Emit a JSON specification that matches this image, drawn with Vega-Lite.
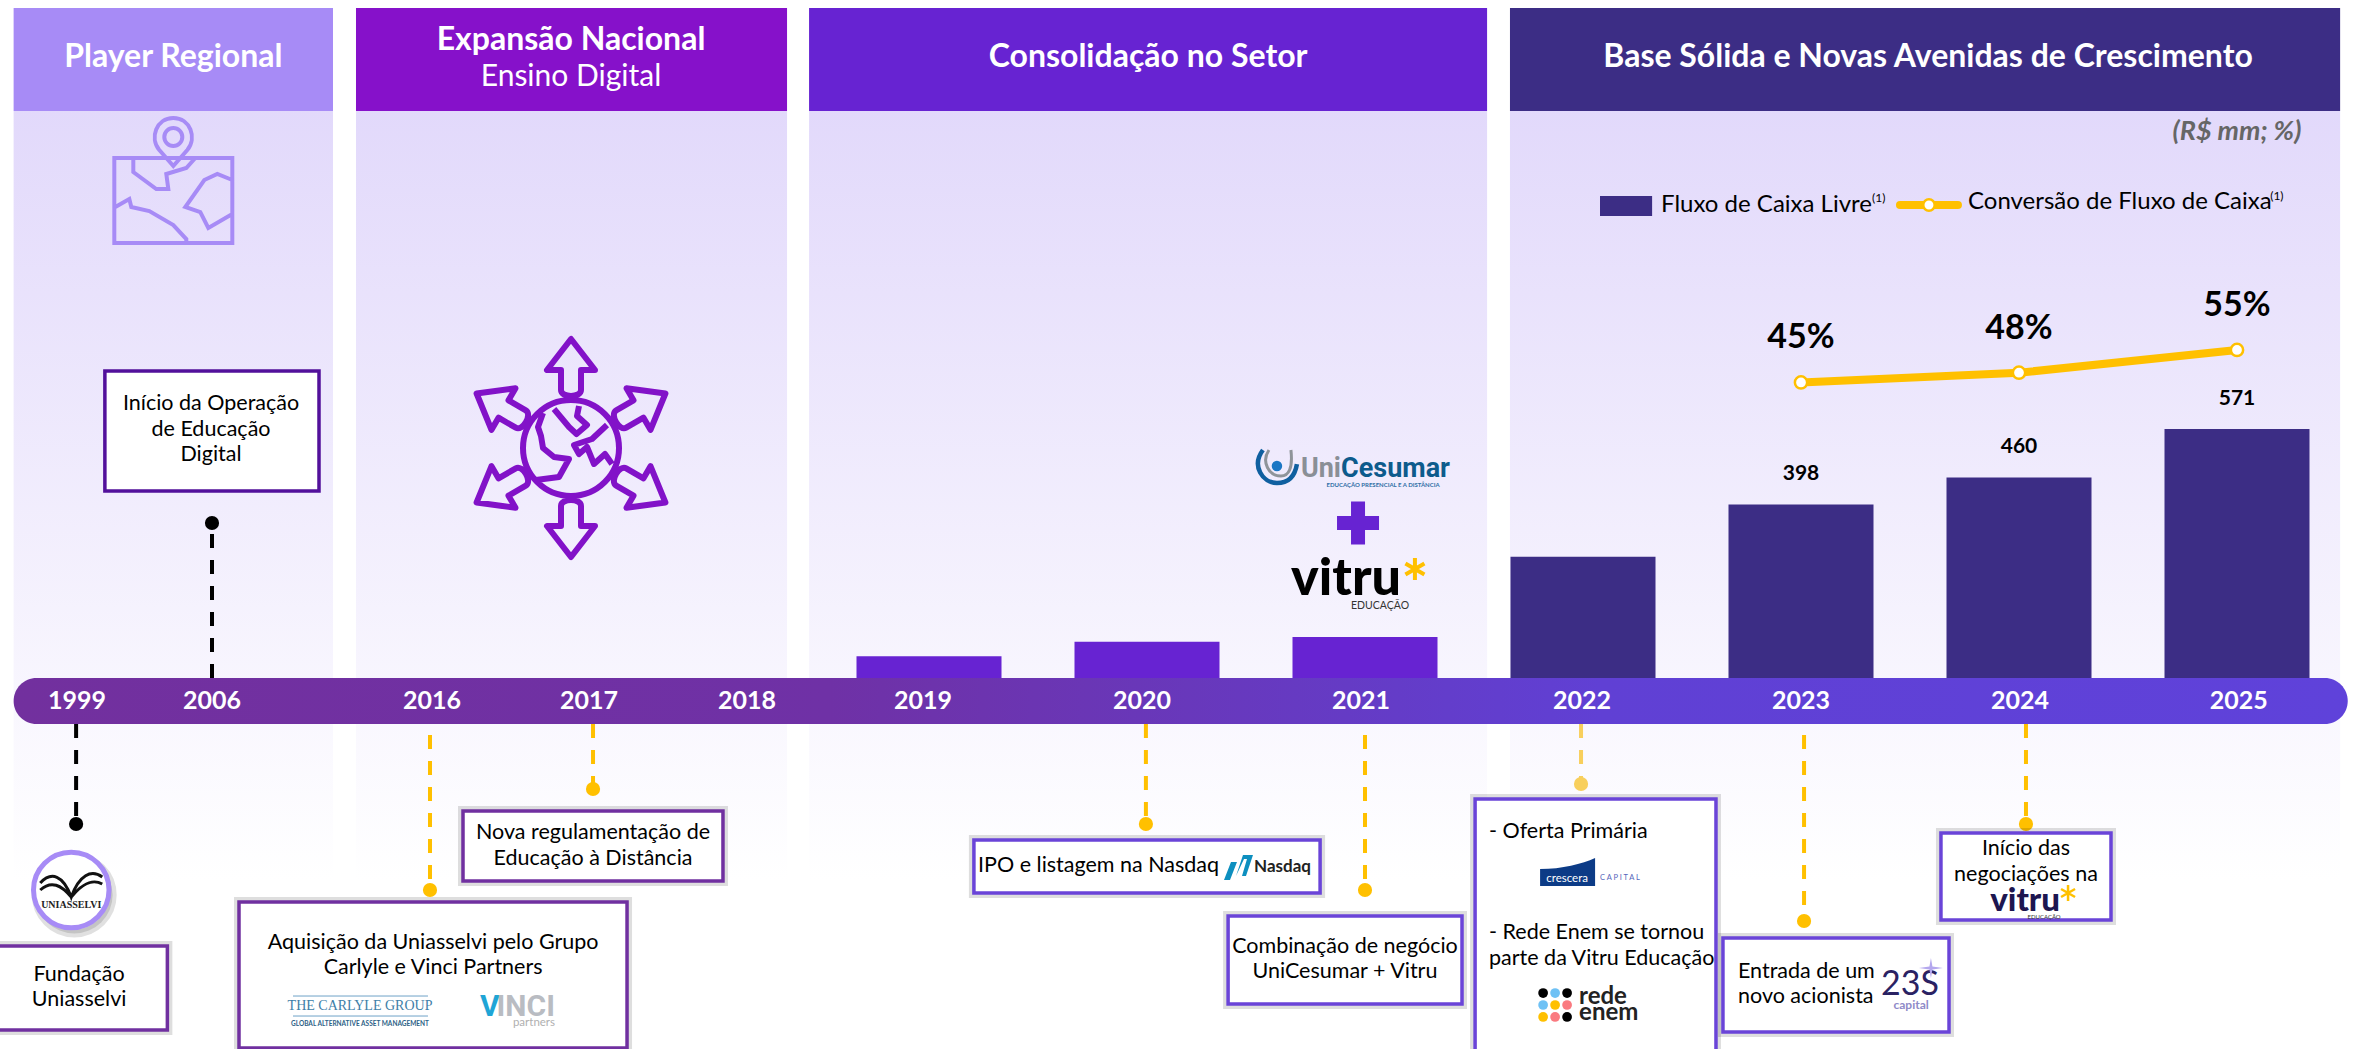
{
"$schema":"https://vega.github.io/schema/vega-lite/v6.json",
"width":2354,"height":1049,"autosize":{"type":"none"},"padding":0,"background":"white",
"config":{"view":{"stroke":null},"axis":{"disable":true},"legend":{"disable":true},"text":{"font":"Lato"}},
"datasets":{
"paineis":[
{"fase":"Player Regional","de":1995.781,"ate":2011.525},
{"fase":"Expansão Nacional","de":2012.575,"ate":2018.220},
{"fase":"Consolidação no Setor","de":2018.341,"ate":2021.560},
{"fase":"Base Sólida","de":2021.665,"ate":2025.5}],
"fluxo":[
{"ano":2019,"fcl":50,"fase":"Consolidação no Setor"},
{"ano":2020,"fcl":83,"fase":"Consolidação no Setor"},
{"ano":2021,"fcl":94,"fase":"Consolidação no Setor"},
{"ano":2022,"fcl":278,"fase":"Base Sólida"},
{"ano":2023,"fcl":398,"fase":"Base Sólida"},
{"ano":2024,"fcl":460,"fase":"Base Sólida"},
{"ano":2025,"fcl":571,"fase":"Base Sólida"}],
"conversao":[{"ano":2023,"pct":45,"rotulo":"45%"},{"ano":2024,"pct":48,"rotulo":"48%"},{"ano":2025,"pct":55,"rotulo":"55%"}],
"anos":[
{"t":"1999","x":1999.051},{"t":"2006","x":2006},{"t":"2016","x":2016.006},{"t":"2017","x":2016.988},{"t":"2018","x":2018},{"t":"2019","x":2018.967},{"t":"2020","x":2019.977},{"t":"2021","x":2020.982},{"t":"2022","x":2021.995},{"t":"2023","x":2023},{"t":"2024","x":2024.005},{"t":"2025","x":2025.009}],
"eventos":[
{"x":1999,"de":-105.5,"ate":-334.9,"tipo":"preto"},
{"x":2006,"de":0,"ate":355.5,"tipo":"preto"},
{"x":2015.954,"de":-130.7,"ate":-486.2,"tipo":"amarelo"},
{"x":2017.013,"de":-105.5,"ate":-254.6,"tipo":"amarelo"},
{"x":2019.995,"de":-105.5,"ate":-334.9,"tipo":"amarelo"},
{"x":2021,"de":-130.7,"ate":-486.2,"tipo":"amarelo"},
{"x":2021.991,"de":-105.5,"ate":-243.1,"tipo":"amarelo claro"},
{"x":2023.014,"de":-130.7,"ate":-557.3,"tipo":"amarelo"},
{"x":2024.032,"de":-105.5,"ate":-334.9,"tipo":"amarelo"}],
"caixas":[
{"nome":"Início","x1":2000.482,"x2":2010.886,"y1":704.1,"y2":428.9,"tipo":"roxo escuro"},
{"nome":"Fundação","x1":1994.912,"x2":2003.701,"y1":-614.7,"y2":-807.3,"tipo":"roxo"},
{"nome":"Aquisição","x1":2007.233,"x2":2017.231,"y1":-513.8,"y2":-848.6,"tipo":"roxo"},
{"nome":"Nova","x1":2016.2,"x2":2017.846,"y1":-305.0,"y2":-465.6,"tipo":"roxo"},
{"nome":"IPO","x1":2019.206,"x2":2020.794,"y1":-371.6,"y2":-493.1,"tipo":"violeta"},
{"nome":"Combinação","x1":2020.372,"x2":2021.445,"y1":-545.9,"y2":-747.7,"tipo":"violeta"},
{"nome":"Oferta","x1":2021.505,"x2":2022.610,"y1":-277.5,"y2":-876,"tipo":"violeta"},
{"nome":"Entrada","x1":2022.642,"x2":2023.679,"y1":-596.3,"y2":-811.9,"tipo":"violeta"},
{"nome":"Negociações","x1":2023.642,"x2":2024.422,"y1":-355.5,"y2":-555.1,"tipo":"violeta"}],
"notasCentro":[
{"t":"Início da Operação","x":2005.949,"y":628.4},{"t":"de Educação","x":2005.949,"y":568.8},{"t":"Digital","x":2005.949,"y":511.5},
{"t":"Fundação","x":1999.153,"y":-681.2},{"t":"Uniasselvi","x":1999.153,"y":-738.5},
{"t":"Aquisição da Uniasselvi pelo Grupo","x":2016.013,"y":-607.8},{"t":"Carlyle e Vinci Partners","x":2016.013,"y":-665.1},
{"t":"Nova regulamentação de","x":2017.013,"y":-355.5},{"t":"Educação à Distância","x":2017.013,"y":-415.1},
{"t":"Combinação de negócio","x":2020.908,"y":-617.0},{"t":"UniCesumar + Vitru","x":2020.908,"y":-674.3},
{"t":"Início das","x":2024.032,"y":-392.2},{"t":"negociações na","x":2024.032,"y":-451.8}],
"notasEsq":[
{"t":"IPO e listagem na  Nasdaq","x":2019.225,"y":-431.2},
{"t":"- Oferta Primária","x":2021.569,"y":-353.2},
{"t":"- Rede Enem se tornou","x":2021.569,"y":-584.9},
{"t":"parte da Vitru Educação","x":2021.569,"y":-644.5},
{"t":"Entrada de um","x":2022.711,"y":-674.3},
{"t":"novo acionista","x":2022.711,"y":-731.6}],
"pontosRede":[
{"x":2021.817,"y":-722.5,"tipo":"preto"},{"x":2021.872,"y":-722.5,"tipo":"azul"},{"x":2021.927,"y":-722.5,"tipo":"preto"},
{"x":2021.817,"y":-750,"tipo":"azul"},{"x":2021.872,"y":-750,"tipo":"amarelo"},{"x":2021.927,"y":-750,"tipo":"rosa"},
{"x":2021.817,"y":-777.5,"tipo":"amarelo"},{"x":2021.872,"y":-777.5,"tipo":"rosa"},{"x":2021.927,"y":-777.5,"tipo":"preto"}]
},
"resolve":{"scale":{"y":"independent"}},
"layer":[
{"layer":[
{"data":{"name":"paineis"},"mark":{"type":"rect","color":{"gradient":"linear","x1":0,"y1":0,"x2":0,"y2":1,"stops":[{"offset":0,"color":"#e2d9fb"},{"offset":0.75,"color":"#f8f6fe"},{"offset":1,"color":"#ffffff"}]}},
"encoding":{"x":{"field":"de","type":"quantitative","scale":{"type":"linear","domain":[1999,2006,2016,2017,2018,2019,2020,2021,2022,2023,2024,2025,2026],"range":[75,212,431,591,747,929,1147,1365,1583,1801,2019,2237,2455],"nice":false,"zero":false}},"x2":{"field":"ate"},"y":{"datum":1300.5,"type":"quantitative","scale":{"domain":[-850.92,1555.05],"range":[1049,0],"nice":false,"zero":false}},"y2":{"datum":-463.3}}},
{"data":{"name":"paineis"},"mark":{"type":"rect"},
"encoding":{"x":{"field":"de","type":"quantitative"},"x2":{"field":"ate"},"y":{"datum":1536.7,"type":"quantitative"},"y2":{"datum":1300.5},"fill":{"field":"fase","type":"nominal","scale":{"domain":["Player Regional","Expansão Nacional","Consolidação no Setor","Base Sólida","preto","amarelo","amarelo claro","azul","rosa"],"range":["#a78bf6","#8611ca","#6723d2","#3c2d85","#000000","#ffc000","#f8cf5c","#6ec1f5","#fa7a80"]}}}},
{"data":{"name":"fluxo"},"mark":{"type":"bar","size":145,"orient":"vertical"},
"encoding":{"x":{"field":"ano","type":"quantitative"},"y":{"field":"fcl","type":"quantitative","stack":null},"y2":{"datum":0},"fill":{"field":"fase","type":"nominal"}}},
{"data":{"values":[{"de":1995.781,"ate":2025.537}]},"mark":{"type":"rect","cornerRadius":23,"color":{"gradient":"linear","x1":0,"y1":0,"x2":1,"y2":0,"stops":[{"offset":0,"color":"#72309e"},{"offset":0.35,"color":"#6f31a6"},{"offset":0.68,"color":"#6040d4"},{"offset":1,"color":"#5f42da"}]}},
"encoding":{"x":{"field":"de","type":"quantitative"},"x2":{"field":"ate"},"y":{"datum":0,"type":"quantitative"},"y2":{"datum":-105.5}}},
{"data":{"name":"eventos"},"mark":{"type":"rule","strokeWidth":4,"strokeDash":[14,12]},
"encoding":{"x":{"field":"x","type":"quantitative"},"y":{"field":"de","type":"quantitative"},"y2":{"field":"ate"},"stroke":{"field":"tipo","type":"nominal","scale":{"domain":["preto","amarelo","amarelo claro","roxo escuro","roxo","violeta"],"range":["#000000","#ffc000","#f8cf5c","#52109b","#7030a0","#6a44d8"]}}}},
{"data":{"name":"eventos"},"mark":{"type":"point","shape":"circle","filled":true,"size":201,"opacity":1},
"encoding":{"x":{"field":"x","type":"quantitative"},"y":{"field":"ate","type":"quantitative"},"fill":{"field":"tipo","type":"nominal"}}},
{"data":{"name":"caixas"},"transform":[{"filter":"datum.tipo != 'roxo escuro'"}],"mark":{"type":"rect","fill":"#000","fillOpacity":0,"stroke":"#000","strokeOpacity":0.13,"strokeWidth":10},
"encoding":{"x":{"field":"x1","type":"quantitative"},"x2":{"field":"x2"},"y":{"field":"y1","type":"quantitative"},"y2":{"field":"y2"}}},
{"data":{"name":"caixas"},"mark":{"type":"rect","fill":"#ffffff","strokeWidth":3.5},
"encoding":{"x":{"field":"x1","type":"quantitative"},"x2":{"field":"x2"},"y":{"field":"y1","type":"quantitative"},"y2":{"field":"y2"},"stroke":{"field":"tipo","type":"nominal"}}},
{"data":{"values":[{"t":"Player Regional","x":2004.007,"y":1424.3},{"t":"Expansão Nacional","x":2016.875,"y":1463.3},{"t":"Consolidação no Setor","x":2020.005,"y":1424.3},{"t":"Base Sólida e Novas Avenidas de Crescimento","x":2023.583,"y":1424.3}]},"mark":{"type":"text","fontSize":32,"fontWeight":700,"color":"#ffffff","baseline":"middle","align":"center"},
"encoding":{"x":{"field":"x","type":"quantitative"},"y":{"field":"y","type":"quantitative"},"text":{"field":"t"}}},
{"data":{"values":[{"t":"Ensino Digital","x":2016.875,"y":1378.4}]},"mark":{"type":"text","fontSize":30,"color":"#ffffff","baseline":"middle","align":"center"},
"encoding":{"x":{"field":"x","type":"quantitative"},"y":{"field":"y","type":"quantitative"},"text":{"field":"t"}}},
{"data":{"name":"anos"},"mark":{"type":"text","fontSize":25,"fontWeight":700,"color":"#ffffff","baseline":"middle","align":"center"},
"encoding":{"x":{"field":"x","type":"quantitative"},"y":{"datum":-52.75,"type":"quantitative"},"text":{"field":"t"}}},
{"data":{"name":"notasCentro"},"mark":{"type":"text","fontSize":21.5,"color":"#000000","baseline":"middle","align":"center"},
"encoding":{"x":{"field":"x","type":"quantitative"},"y":{"field":"y","type":"quantitative"},"text":{"field":"t"}}},
{"data":{"name":"notasEsq"},"mark":{"type":"text","fontSize":21.5,"color":"#000000","baseline":"middle","align":"left"},
"encoding":{"x":{"field":"x","type":"quantitative"},"y":{"field":"y","type":"quantitative"},"text":{"field":"t"}}},
{"data":{"values":[{"t":"Fluxo de Caixa Livre","x":2022.358,"y":1084.9},{"t":"Conversão de Fluxo de Caixa","x":2023.766,"y":1091.7}]},"mark":{"type":"text","fontSize":24,"color":"#000000","baseline":"middle","align":"left"},
"encoding":{"x":{"field":"x","type":"quantitative"},"y":{"field":"y","type":"quantitative"},"text":{"field":"t"}}},
{"data":{"values":[{"t":"(1)","x":2023.326,"y":1100.9},{"t":"(1)","x":2025.161,"y":1105.5}]},"mark":{"type":"text","fontSize":12,"color":"#000000","baseline":"middle","align":"left"},
"encoding":{"x":{"field":"x","type":"quantitative"},"y":{"field":"y","type":"quantitative"},"text":{"field":"t"}}},
{"data":{"values":[{"t":"(R$ mm; %)","x":2025.312,"y":1252.3}]},"mark":{"type":"text","fontSize":27,"fontWeight":700,"fontStyle":"italic","color":"#666666","baseline":"middle","align":"right"},
"encoding":{"x":{"field":"x","type":"quantitative"},"y":{"field":"y","type":"quantitative"},"text":{"field":"t"}}},
{"data":{"values":[{"de":2022.078,"ate":2022.317}]},"mark":{"type":"rect","fill":"#3c2d85"},
"encoding":{"x":{"field":"de","type":"quantitative"},"x2":{"field":"ate"},"y":{"datum":1105.5,"type":"quantitative"},"y2":{"datum":1059.6}}},
{"data":{"values":[{"x":2023.454,"y":1084.9},{"x":2023.720,"y":1084.9}]},"mark":{"type":"line","stroke":"#ffc000","strokeWidth":8,"strokeCap":"round"},
"encoding":{"x":{"field":"x","type":"quantitative"},"y":{"field":"y","type":"quantitative"}}},
{"data":{"values":[{"x":2023.587,"y":1084.9}]},"mark":{"type":"point","shape":"circle","filled":true,"fill":"#ffffff","stroke":"#ffc000","strokeWidth":2.5,"size":130,"opacity":1},
"encoding":{"x":{"field":"x","type":"quantitative"},"y":{"field":"y","type":"quantitative"}}},
{"data":{"values":[{"fcl":398,"ano":2023},{"fcl":460,"ano":2024},{"fcl":571,"ano":2025}]},"mark":{"type":"text","fontSize":21,"fontWeight":700,"color":"#000000","baseline":"middle","align":"center","dy":-30},
"encoding":{"x":{"field":"ano","type":"quantitative"},"y":{"field":"fcl","type":"quantitative"},"text":{"field":"fcl","type":"quantitative"}}},
{"data":{"values":[{"icone":"mapa","x":2004.007,"y":1096.3}]},"mark":{"type":"point","size":4,"filled":false,"opacity":1,"stroke":"#a78bf6","strokeWidth":4,"shape":"M-59,-42L59,-42L59,43L-59,43ZM0,-34L-14,-50C-24,-62,-17,-82,0,-82C17,-82,24,-62,14,-50ZM9,-63A9,9,0,1,1,-9,-63A9,9,0,1,1,9,-63ZM-40,-42L-40,-28L-17,-11L-5,-11L-7,-26L13,-32L22,-42M59,-20L44,-26L31,-20L12,7L27,12L35,28L59,14M-58,7L-44,-1L-42,7L-24,11L0,25L13,39L13,43"},
"encoding":{"x":{"field":"x","type":"quantitative"},"y":{"field":"y","type":"quantitative"}}},
{"data":{"values":[{"icone":"globo","x":2016.875,"y":527.5}]},"mark":{"type":"point","size":4,"filled":false,"opacity":1,"stroke":"#8212c8","strokeWidth":6,"strokeJoin":"round","shape":"M48,0A48,48,0,1,1,-48,0A48,48,0,1,1,48,0ZM0,-109L-24,-78L-10,-78L-10,-58C-10,-50,10,-50,10,-58L10,-78L24,-78ZM0,109L-24,78L-10,78L-10,58C-10,50,10,50,10,58L10,78L24,78ZM94.4,-54.5L55.5,-59.8L62.5,-47.7L45.2,-37.7C38.3,-33.7,48.3,-16.3,55.2,-20.3L72.5,-30.3L79.5,-18.2ZM94.4,54.5L55.5,59.8L62.5,47.7L45.2,37.7C38.3,33.7,48.3,16.3,55.2,20.3L72.5,30.3L79.5,18.2ZM-94.4,-54.5L-55.5,-59.8L-62.5,-47.7L-45.2,-37.7C-38.3,-33.7,-48.3,-16.3,-55.2,-20.3L-72.5,-30.3L-79.5,-18.2ZM-94.4,54.5L-55.5,59.8L-62.5,47.7L-45.2,37.7C-38.3,33.7,-48.3,16.3,-55.2,20.3L-72.5,30.3L-79.5,18.2ZM-17,-39L-2,-21L5.5,-14L16,-23L6,-32L8,-42M-28,-35L-33,-21L-30,-12L-28,0L-17,9L-2,11L-12,29L-35,32M36,-23L21,-9L3,-3L8,6L16,-1L23,16L34,6L41,16"},
"encoding":{"x":{"field":"x","type":"quantitative"},"y":{"field":"y","type":"quantitative"}}},
{"data":{"values":[{"icone":"selo","x":1998.75,"y":-486.2}]},"mark":{"type":"point","shape":"circle","filled":true,"fill":"#000000","stroke":"#000000","strokeOpacity":0.12,"fillOpacity":0.12,"strokeWidth":8,"size":5900,"opacity":1,"yOffset":5,"xOffset":3},
"encoding":{"x":{"field":"x","type":"quantitative"},"y":{"field":"y","type":"quantitative"}}},
{"data":{"values":[{"icone":"selo","x":1998.75,"y":-486.2}]},"mark":{"type":"point","shape":"circle","filled":true,"fill":"#ffffff","stroke":"#a78bf6","strokeWidth":5,"size":5700,"opacity":1},
"encoding":{"x":{"field":"x","type":"quantitative"},"y":{"field":"y","type":"quantitative"}}},
{"data":{"values":[{"icone":"livro","x":1998.75,"y":-474.8}]},"mark":{"type":"point","size":4,"filled":false,"opacity":1,"stroke":"#111111","strokeWidth":3,"shape":"M-31,-2C-20,-14,-8,-10,0,12C8,-10,20,-16,31,-8M-31,5C-20,-5,-10,0,0,12C10,0,20,-7,31,-1"},
"encoding":{"x":{"field":"x","type":"quantitative"},"y":{"field":"y","type":"quantitative"}}},
{"data":{"values":[{"t":"UNIASSELVI","x":1998.75,"y":-520.6}]},"mark":{"type":"text","font":"Liberation Serif","fontSize":10,"fontWeight":700,"color":"#222222","baseline":"middle","align":"center"},
"encoding":{"x":{"field":"x","type":"quantitative"},"y":{"field":"y","type":"quantitative"},"text":{"field":"t"}}},
{"data":{"values":[{"t":"THE CARLYLE GROUP","x":2012.758,"y":-752.3}]},"mark":{"type":"text","font":"Liberation Serif","fontSize":14,"color":"#3e7ea8","baseline":"middle","align":"center"},
"encoding":{"x":{"field":"x","type":"quantitative"},"y":{"field":"y","type":"quantitative"},"text":{"field":"t"}}},
{"data":{"values":[{"t":"GLOBAL ALTERNATIVE ASSET MANAGEMENT","x":2012.758,"y":-793.6}]},"mark":{"type":"text","fontSize":6.5,"fontWeight":700,"color":"#2d5f86","baseline":"middle","align":"center"},
"encoding":{"x":{"field":"x","type":"quantitative"},"y":{"field":"y","type":"quantitative"},"text":{"field":"t"}}},
{"data":{"values":[{"y":-729.4},{"y":-775.3}]},"mark":{"type":"rule","stroke":"#6fa3c7","strokeWidth":1},
"encoding":{"x":{"datum":2009.699,"type":"quantitative"},"x2":{"datum":2015.863},"y":{"field":"y","type":"quantitative"}}},
{"data":{"values":[{"t":"V","x":2016.306,"y":-754.6}]},"mark":{"type":"text","font":"Roboto","fontSize":30,"fontWeight":700,"color":"#1fa5d6","baseline":"middle","align":"left"},
"encoding":{"x":{"field":"x","type":"quantitative"},"y":{"field":"y","type":"quantitative"},"text":{"field":"t"}}},
{"data":{"values":[{"t":"INCI","x":2016.41,"y":-754.6}]},"mark":{"type":"text","font":"Roboto","fontSize":30,"fontWeight":700,"color":"#b9bcc2","baseline":"middle","align":"left"},
"encoding":{"x":{"field":"x","type":"quantitative"},"y":{"field":"y","type":"quantitative"},"text":{"field":"t"}}},
{"data":{"values":[{"t":"partners","x":2016.775,"y":-791.3}]},"mark":{"type":"text","fontSize":11.5,"color":"#b0b0b0","baseline":"middle","align":"right"},
"encoding":{"x":{"field":"x","type":"quantitative"},"y":{"field":"y","type":"quantitative"},"text":{"field":"t"}}},
{"data":{"values":[{"icone":"nasdaq","x":2020.422,"y":-433.5}]},"mark":{"type":"point","size":4,"filled":true,"opacity":1,"fill":"#0d8fbf","stroke":null,"shape":"M-15,13L-8,-5L-2,-5L-9,13ZM-3,9L4,-12L14,-12L7,9L3,9L8,-8L5,-8Z"},
"encoding":{"x":{"field":"x","type":"quantitative"},"y":{"field":"y","type":"quantitative"}}},
{"data":{"values":[{"t":"Nasdaq","x":2020.491,"y":-433.5}]},"mark":{"type":"text","font":"Lato","fontSize":17,"fontWeight":700,"color":"#222222","baseline":"middle","align":"left"},
"encoding":{"x":{"field":"x","type":"quantitative"},"y":{"field":"y","type":"quantitative"},"text":{"field":"t"}}},
{"data":{"values":[{"icone":"crescera","x":2021.927,"y":-445}]},"mark":{"type":"point","size":4,"filled":true,"opacity":1,"fill":"#0c3b86","stroke":null,"shape":"M-27,-3C-5,-3,15,-8,28,-14L28,14L-27,14Z"},
"encoding":{"x":{"field":"x","type":"quantitative"},"y":{"field":"y","type":"quantitative"}}},
{"data":{"values":[{"t":"crescera","x":2021.927,"y":-461}]},"mark":{"type":"text","fontSize":11.5,"color":"#ffffff","baseline":"middle","align":"center"},
"encoding":{"x":{"field":"x","type":"quantitative"},"y":{"field":"y","type":"quantitative"},"text":{"field":"t"}}},
{"data":{"values":[{"t":"C A P I T A L","x":2022.078,"y":-458.7}]},"mark":{"type":"text","fontSize":7.5,"color":"#5566bb","baseline":"middle","align":"left"},
"encoding":{"x":{"field":"x","type":"quantitative"},"y":{"field":"y","type":"quantitative"},"text":{"field":"t"}}},
{"data":{"name":"pontosRede"},"mark":{"type":"point","shape":"circle","filled":true,"size":95,"opacity":1},
"encoding":{"x":{"field":"x","type":"quantitative"},"y":{"field":"y","type":"quantitative"},"fill":{"field":"tipo","type":"nominal"}}},
{"data":{"values":[{"t":"rede","x":2021.982,"y":-731.6},{"t":"enem","x":2021.982,"y":-768.3}]},"mark":{"type":"text","fontSize":24,"fontWeight":700,"color":"#222222","baseline":"middle","align":"left"},
"encoding":{"x":{"field":"x","type":"quantitative"},"y":{"field":"y","type":"quantitative"},"text":{"field":"t"}}},
{"data":{"values":[{"t":"23S","x":2023.367,"y":-704.1}]},"mark":{"type":"text","fontSize":34,"color":"#2a2263","baseline":"middle","align":"left"},
"encoding":{"x":{"field":"x","type":"quantitative"},"y":{"field":"y","type":"quantitative"},"text":{"field":"t"}}},
{"data":{"values":[{"t":"capital","x":2023.505,"y":-750}]},"mark":{"type":"text","fontSize":12,"fontWeight":700,"color":"#8f8ac8","baseline":"middle","align":"center"},
"encoding":{"x":{"field":"x","type":"quantitative"},"y":{"field":"y","type":"quantitative"},"text":{"field":"t"}}},
{"data":{"values":[{"icone":"estrela","x":2023.596,"y":-665.1}]},"mark":{"type":"point","size":4,"filled":true,"opacity":1,"fill":"#b4a7ee","stroke":null,"shape":"M0,-10L1.5,-1.5L12,0L1.5,1.5L0,10L-1.5,1.5L-12,0L-1.5,-1.5Z"},
"encoding":{"x":{"field":"x","type":"quantitative"},"y":{"field":"y","type":"quantitative"}}},
{"data":{"values":[{"t":"vitru","x":2024.028,"y":-511.5}]},"mark":{"type":"text","fontSize":33,"fontWeight":900,"color":"#1d1650","baseline":"middle","align":"center"},
"encoding":{"x":{"field":"x","type":"quantitative"},"y":{"field":"y","type":"quantitative"},"text":{"field":"t"}}},
{"data":{"values":[{"icone":"asterisco","x":2024.225,"y":-493.1}]},"mark":{"type":"point","size":4,"filled":false,"opacity":1,"stroke":"#ffc000","strokeWidth":2.5,"shape":"M0,-8L0,8M-7,-4L7,4M-7,4L7,-4"},
"encoding":{"x":{"field":"x","type":"quantitative"},"y":{"field":"y","type":"quantitative"}}},
{"data":{"values":[{"t":"EDUCAÇÃO","x":2024.115,"y":-548.2}]},"mark":{"type":"text","fontSize":6,"color":"#333333","baseline":"middle","align":"center"},
"encoding":{"x":{"field":"x","type":"quantitative"},"y":{"field":"y","type":"quantitative"},"text":{"field":"t"}}},
{"data":{"values":[{"icone":"mais","x":2020.968,"y":355.5}]},"mark":{"type":"point","size":4,"filled":true,"opacity":1,"fill":"#6723d2","stroke":null,"shape":"M-7,-21.5L7,-21.5L7,-7L21,-7L21,7L7,7L7,21.5L-7,21.5L-7,7L-21,7L-21,-7L-7,-7Z"},
"encoding":{"x":{"field":"x","type":"quantitative"},"y":{"field":"y","type":"quantitative"}}},
{"data":{"values":[{"t":"vitru","x":2020.913,"y":190.4}]},"mark":{"type":"text","fontSize":52,"fontWeight":900,"color":"#000000","baseline":"alphabetic","align":"center"},
"encoding":{"x":{"field":"x","type":"quantitative"},"y":{"field":"y","type":"quantitative"},"text":{"field":"t"}}},
{"data":{"values":[{"icone":"asterisco","x":2021.229,"y":250}]},"mark":{"type":"point","size":4,"filled":false,"opacity":1,"stroke":"#ffc000","strokeWidth":4,"shape":"M0,-11L0,11M-9.5,-5.5L9.5,5.5M-9.5,5.5L9.5,-5.5"},
"encoding":{"x":{"field":"x","type":"quantitative"},"y":{"field":"y","type":"quantitative"}}},
{"data":{"values":[{"t":"EDUCAÇÃO","x":2021.069,"y":164}]},"mark":{"type":"text","fontSize":10.5,"color":"#333333","baseline":"middle","align":"center"},
"encoding":{"x":{"field":"x","type":"quantitative"},"y":{"field":"y","type":"quantitative"},"text":{"field":"t"}}},
{"data":{"values":[{"icone":"unicesumar","x":2020.596,"y":486.2}]},"mark":{"type":"point","size":4,"filled":false,"opacity":1,"stroke":"#0f5fa0","strokeWidth":4.5,"shape":"M-14,-16C-26,0,-14,17,0,17C12,17,18,10,20,-2"},
"encoding":{"x":{"field":"x","type":"quantitative"},"y":{"field":"y","type":"quantitative"}}},
{"data":{"values":[{"icone":"unicesumar","x":2020.596,"y":486.2}]},"mark":{"type":"point","size":4,"filled":false,"opacity":1,"stroke":"#8f949a","strokeWidth":3,"shape":"M-8,-16C-16,-4,-8,10,4,10C12,10,16,2,14,-16"},
"encoding":{"x":{"field":"x","type":"quantitative"},"y":{"field":"y","type":"quantitative"}}},
{"data":{"values":[{"icone":"unicesumar","x":2020.596,"y":486.2}]},"mark":{"type":"point","shape":"circle","filled":true,"fill":"#1b76c4","size":110,"opacity":1},
"encoding":{"x":{"field":"x","type":"quantitative"},"y":{"field":"y","type":"quantitative"}}},
{"data":{"values":[{"t":"Uni","x":2020.706,"y":461}]},"mark":{"type":"text","font":"Roboto","fontSize":27,"fontWeight":700,"color":"#8a8f96","baseline":"alphabetic","align":"left"},
"encoding":{"x":{"field":"x","type":"quantitative"},"y":{"field":"y","type":"quantitative"},"text":{"field":"t"}}},
{"data":{"values":[{"t":"Cesumar","x":2020.890,"y":461}]},"mark":{"type":"text","font":"Roboto","fontSize":27,"fontWeight":700,"color":"#0d5b8c","baseline":"alphabetic","align":"left"},
"encoding":{"x":{"field":"x","type":"quantitative"},"y":{"field":"y","type":"quantitative"},"text":{"field":"t"}}},
{"data":{"values":[{"t":"EDUCAÇÃO PRESENCIAL E A DISTÂNCIA","x":2021.083,"y":442.6}]},"mark":{"type":"text","fontSize":6,"fontWeight":700,"color":"#2f6fa6","baseline":"middle","align":"center"},
"encoding":{"x":{"field":"x","type":"quantitative"},"y":{"field":"y","type":"quantitative"},"text":{"field":"t"}}}
]},
{"layer":[
{"data":{"name":"conversao"},"mark":{"type":"line","stroke":"#ffc000","strokeWidth":8},
"encoding":{"x":{"field":"ano","type":"quantitative"},"y":{"field":"pct","type":"quantitative","scale":{"domain":[-160.08,162.69],"range":[1049,0],"nice":false,"zero":false}}}},
{"data":{"name":"conversao"},"mark":{"type":"point","shape":"circle","filled":true,"fill":"#ffffff","stroke":"#ffc000","strokeWidth":2.5,"size":150,"opacity":1},
"encoding":{"x":{"field":"ano","type":"quantitative"},"y":{"field":"pct","type":"quantitative"}}},
{"data":{"name":"conversao"},"mark":{"type":"text","fontSize":34,"fontWeight":700,"color":"#000000","baseline":"middle","align":"center","dy":-44},
"encoding":{"x":{"field":"ano","type":"quantitative"},"y":{"field":"pct","type":"quantitative"},"text":{"field":"rotulo"}}}
]}
]
}
